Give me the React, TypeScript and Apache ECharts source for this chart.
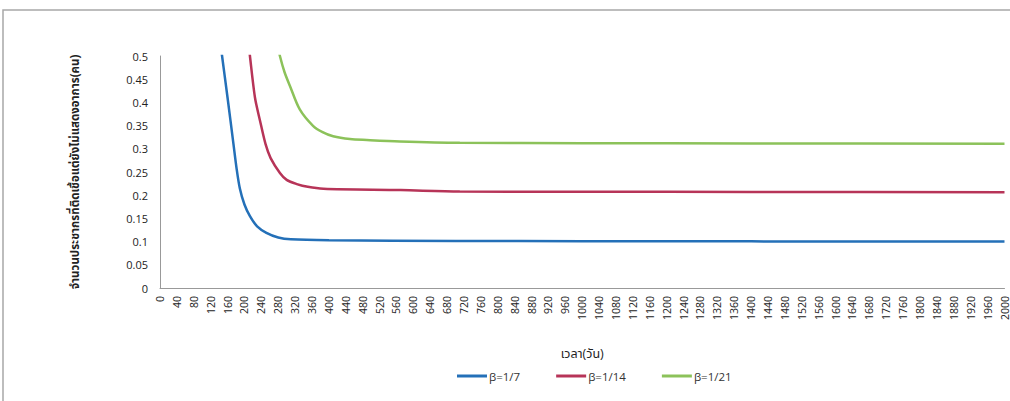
import React, { useEffect, useRef } from "react";
import * as echarts from "echarts";

const seriesNames = ["β=1/7", "β=1/14", "β=1/21"];

const blueDays = [140, 147, 160, 174, 181, 189, 200, 213, 230, 252, 280, 310, 400, 700, 1000, 1400, 2000];
const blueValues = [0.55, 0.5, 0.41, 0.31, 0.26, 0.215, 0.18, 0.155, 0.133, 0.119, 0.109, 0.105, 0.103, 0.1015, 0.101, 0.1005, 0.1];

const redDays = [206, 213, 225, 237, 250, 262, 284, 300, 324, 350, 387, 570, 710, 1000, 1400, 2000];
const redValues = [0.56, 0.5, 0.41, 0.36, 0.31, 0.28, 0.248, 0.233, 0.224, 0.218, 0.214, 0.211, 0.208, 0.2075, 0.207, 0.2065];

const greenDays = [277, 284, 295, 308, 331, 363, 385, 410, 450, 490, 568, 710, 1000, 1400, 2000];
const greenValues = [0.53, 0.5, 0.465, 0.435, 0.385, 0.349, 0.336, 0.327, 0.321, 0.319, 0.316, 0.313, 0.312, 0.3115, 0.311];

const xTicks = { min: 0, max: 2000, step: 40 };
const yTicks = { min: 0, max: 0.5, step: 0.05 };

const xAxisName = "เวลา(วัน)";
const yAxisName = "จำนวนประชากรที่ติดเชื้อแต่ยังไม่แสดงอาการ(คน)";

const colors = ["#2470b8", "#b73458", "#8cc25a"];

const FONT = "'Open Sans', 'Noto Sans Thai', 'Noto Sans', 'DejaVu Sans', sans-serif";

function pairs(xs: number[], ys: number[]) {
  return xs.map((x, i) => [x, ys[i]]);
}

export default function App() {
  const ref = useRef<HTMLDivElement>(null);
  useEffect(() => {
    if (!ref.current) return;
    const chart = echarts.init(ref.current, undefined, { renderer: "svg" });
    const datasets = [
      pairs(blueDays, blueValues),
      pairs(redDays, redValues),
      pairs(greenDays, greenValues),
    ];
    chart.setOption({
      animation: false,
      backgroundColor: "#ffffff",
      textStyle: { fontFamily: FONT },
      graphic: [
        {
          type: "rect",
          shape: { x: 3, y: 10, width: 1100, height: 500 },
          style: { fill: "none", stroke: "#a8a8a8", lineWidth: 1.5 },
          silent: true,
        },
      ],
      grid: { left: 160, right: 4, top: 56, bottom: 113, containLabel: false },
      legend: {
        bottom: 14,
        left: 452,
        itemWidth: 30,
        itemHeight: 3,
        itemGap: 36,
        icon: "rect",
        textStyle: { fontSize: 11.5, color: "#333", fontFamily: FONT, padding: [0, 0, 0, -3] },
        data: seriesNames,
      },
      xAxis: {
        type: "value",
        min: xTicks.min,
        max: xTicks.max,
        interval: xTicks.step,
        name: xAxisName,
        nameLocation: "middle",
        nameGap: 59,
        nameTextStyle: { fontSize: 12.5, color: "#222", fontFamily: FONT },
        axisLine: { show: true, lineStyle: { color: "#999", width: 1 } },
        axisTick: { show: false },
        splitLine: { show: false },
        axisLabel: {
          rotate: 90,
          fontSize: 10.5,
          color: "#222",
          margin: 8,
          fontFamily: FONT,
          formatter: (v: number) => String(v),
        },
      },
      yAxis: {
        type: "value",
        min: yTicks.min,
        max: yTicks.max,
        interval: yTicks.step,
        name: yAxisName,
        nameLocation: "middle",
        nameGap: 80,
        nameRotate: 90,
        nameTextStyle: { fontSize: 11.5, fontWeight: "bold", color: "#222", fontFamily: FONT },
        axisLine: { show: true, lineStyle: { color: "#999", width: 1 } },
        axisTick: { show: false },
        splitLine: { show: false },
        axisLabel: {
          fontSize: 11,
          color: "#222",
          margin: 12,
          fontFamily: FONT,
          formatter: (v: number) => String(parseFloat(v.toFixed(2))),
        },
      },
      series: seriesNames.map((name, i) => ({
        name,
        type: "line",
        data: datasets[i],
        smooth: 0.3,
        showSymbol: false,
        clip: true,
        lineStyle: { color: colors[i], width: 2.5 },
        itemStyle: { color: colors[i] },
      })),
    });
    return () => chart.dispose();
  }, []);
  return (
    <div
      ref={ref}
      style={{ position: "absolute", left: 0, top: 0, width: 1010, height: 401 }}
    />
  );
}
